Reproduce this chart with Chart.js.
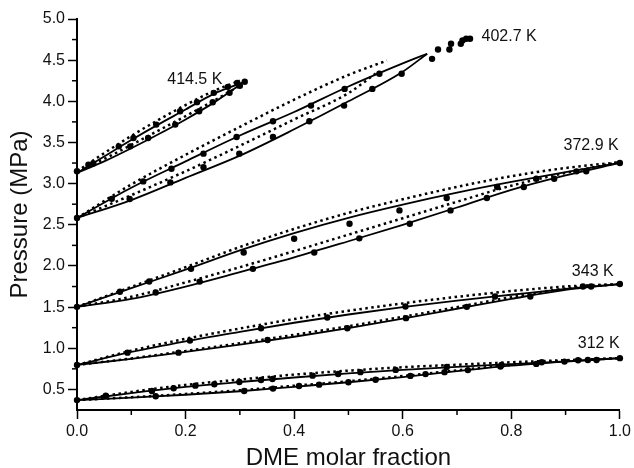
<!DOCTYPE html>
<html><head><meta charset="utf-8">
<script src="https://cdn.jsdelivr.net/npm/chart.js@4.4.0/dist/chart.umd.min.js"></script>
<style>html,body{margin:0;padding:0;background:#fff;}#wrap{width:634px;height:468px;}</style>
</head><body><div id="wrap"><canvas id="c" width="634" height="468"></canvas></div>
<script>
// ---- tick values ----
const xMajor = [0, 0.2, 0.4, 0.6, 0.8, 1.0];
const xMinor = [0.1, 0.3, 0.5, 0.7, 0.9];
const yMajor = [0.5, 1.0, 1.5, 2.0, 2.5, 3.0, 3.5, 4.0, 4.5, 5.0];
const yMinor = [0.75, 1.25, 1.75, 2.25, 2.75, 3.25, 3.75, 4.25, 4.75];

// ---- isotherm labels ----
const labelTexts = ['414.5 K', '402.7 K', '372.9 K', '343 K', '312 K'];
const labelX = [0.217, 0.796, 0.947, 0.95, 0.961];
const labelP = [4.265, 4.79, 3.46, 1.93, 1.053];

// ---- experimental data [x, P(MPa)] ----
const exp312Liq = [[0,0.37],[0.053,0.424],[0.138,0.481],[0.178,0.514],[0.218,0.546],[0.253,0.563],[0.299,0.59],[0.339,0.615],[0.36,0.627],[0.434,0.667],[0.481,0.688],[0.522,0.71],[0.587,0.737],[0.681,0.772],[0.782,0.797],[0.856,0.83],[0.923,0.855],[0.957,0.858],[1.0,0.88]];
const exp312Vap = [[0.145,0.417],[0.308,0.481],[0.361,0.51],[0.409,0.542],[0.446,0.558],[0.5,0.587],[0.55,0.617],[0.614,0.664],[0.642,0.686],[0.677,0.71],[0.72,0.735],[0.78,0.777],[0.846,0.81],[0.898,0.838],[0.941,0.858]];
const exp343Liq = [[0,0.797],[0.093,0.947],[0.208,1.093],[0.339,1.244],[0.461,1.373],[0.605,1.507],[0.77,1.628],[0.932,1.75],[1.0,1.78]];
const exp343Vap = [[0.187,0.947],[0.351,1.1],[0.498,1.244],[0.606,1.366],[0.718,1.503],[0.835,1.628],[0.947,1.75]];
const exp373Liq = [[0,1.503],[0.079,1.686],[0.133,1.811],[0.21,1.965],[0.307,2.164],[0.4,2.33],[0.502,2.513],[0.594,2.675],[0.681,2.825],[0.774,2.959],[0.846,3.06],[0.92,3.149],[1.0,3.251]];
const exp373Vap = [[0.145,1.677],[0.226,1.81],[0.324,1.965],[0.437,2.164],[0.52,2.335],[0.613,2.513],[0.688,2.675],[0.755,2.825],[0.823,2.959],[0.879,3.06],[0.938,3.149]];
const exp403Liq = [[0,2.582],[0.064,2.815],[0.122,3.027],[0.174,3.18],[0.233,3.364],[0.294,3.567],[0.361,3.757],[0.431,3.948],[0.493,4.151],[0.557,4.334],[0.654,4.516],[0.665,4.63],[0.689,4.7],[0.71,4.74],[0.717,4.76]];
const exp403Vap = [[0.097,2.813],[0.172,3.015],[0.233,3.2],[0.299,3.364],[0.361,3.567],[0.428,3.757],[0.492,3.948],[0.544,4.151],[0.598,4.334],[0.686,4.63],[0.707,4.7],[0.724,4.76]];
const exp415Liq = [[0,3.15],[0.021,3.23],[0.077,3.453],[0.104,3.555],[0.146,3.717],[0.19,3.879],[0.221,3.99],[0.252,4.103],[0.278,4.176],[0.295,4.224]];
const exp415Vap = [[0.03,3.245],[0.098,3.453],[0.131,3.555],[0.181,3.717],[0.225,3.879],[0.25,3.988],[0.281,4.103],[0.3,4.19],[0.309,4.237]];

// ---- model curves (solid) ----
const m312Bub = [[0,0.37],[0.1,0.455],[0.2,0.53],[0.3,0.59],[0.4,0.645],[0.5,0.695],[0.6,0.738],[0.7,0.775],[0.8,0.808],[0.9,0.84],[1,0.88]];
const m312Dew = [[0,0.37],[0.1,0.4],[0.2,0.435],[0.3,0.478],[0.4,0.532],[0.5,0.587],[0.6,0.65],[0.7,0.722],[0.8,0.788],[0.9,0.838],[1,0.88]];
const m343Bub = [[0,0.797],[0.1,0.955],[0.2,1.085],[0.3,1.2],[0.4,1.31],[0.5,1.41],[0.6,1.5],[0.7,1.58],[0.8,1.65],[0.9,1.72],[1,1.78]];
const m343Dew = [[0,0.797],[0.1,0.87],[0.2,0.955],[0.3,1.045],[0.4,1.14],[0.5,1.245],[0.6,1.36],[0.7,1.48],[0.8,1.6],[0.9,1.71],[1,1.78]];
const m373Bub = [[0,1.503],[0.1,1.73],[0.2,1.955],[0.3,2.19],[0.4,2.4],[0.5,2.585],[0.6,2.745],[0.7,2.89],[0.8,3.02],[0.9,3.14],[1,3.251]];
const m373Dew = [[0,1.503],[0.1,1.6],[0.2,1.75],[0.3,1.925],[0.4,2.105],[0.5,2.3],[0.6,2.5],[0.7,2.71],[0.8,2.925],[0.9,3.1],[1,3.251]];
const m403Bub = [[0,2.582],[0.1,2.95],[0.2,3.27],[0.3,3.585],[0.4,3.87],[0.5,4.18],[0.6,4.46],[0.645,4.578]];
const m403Dew = [[0,2.582],[0.1,2.8],[0.2,3.07],[0.3,3.34],[0.4,3.66],[0.5,4.0],[0.6,4.36],[0.645,4.578]];
const m415Bub = [[0,3.13],[0.05,3.33],[0.1,3.53],[0.15,3.72],[0.2,3.9],[0.25,4.085],[0.3,4.215],[0.306,4.23]];
const m415Dew = [[0,3.13],[0.05,3.27],[0.1,3.43],[0.15,3.6],[0.2,3.78],[0.25,3.975],[0.3,4.2],[0.306,4.23]];

// ---- second model curves (dotted) ----
const d312Bub = [[0,0.37],[0.1,0.47],[0.2,0.555],[0.3,0.62],[0.4,0.68],[0.5,0.728],[0.6,0.77],[0.7,0.8],[0.8,0.83],[0.9,0.855],[1,0.88]];
const d312Dew = [[0,0.37],[0.1,0.405],[0.2,0.445],[0.3,0.49],[0.4,0.545],[0.5,0.6],[0.6,0.662],[0.7,0.732],[0.8,0.798],[0.9,0.848],[1,0.88]];
const d343Bub = [[0,0.797],[0.1,0.97],[0.2,1.115],[0.3,1.24],[0.4,1.355],[0.5,1.455],[0.6,1.545],[0.7,1.625],[0.8,1.695],[0.9,1.75],[1,1.78]];
const d343Dew = [[0,0.797],[0.1,0.877],[0.2,0.967],[0.3,1.062],[0.4,1.163],[0.5,1.268],[0.6,1.382],[0.7,1.5],[0.8,1.62],[0.9,1.725],[1,1.78]];
const d373Bub = [[0,1.503],[0.1,1.745],[0.2,1.985],[0.3,2.23],[0.4,2.45],[0.5,2.645],[0.6,2.81],[0.7,2.96],[0.8,3.09],[0.9,3.19],[1,3.26]];
const d373Dew = [[0,1.503],[0.1,1.625],[0.2,1.8],[0.3,1.985],[0.4,2.18],[0.5,2.38],[0.6,2.58],[0.7,2.78],[0.8,2.975],[0.9,3.13],[1,3.26]];
const d403Bub = [[0,2.582],[0.1,2.99],[0.2,3.35],[0.3,3.69],[0.4,4.02],[0.5,4.32],[0.571,4.495]];
const d403Dew = [[0,2.582],[0.1,2.86],[0.2,3.15],[0.3,3.46],[0.4,3.78],[0.5,4.1],[0.556,4.366]];
const d415Bub = [[0,3.15],[0.05,3.37],[0.1,3.58],[0.15,3.775],[0.2,3.955],[0.25,4.12],[0.3,4.25]];
const d415Dew = [[0,3.15],[0.05,3.3],[0.1,3.47],[0.15,3.645],[0.2,3.82],[0.25,4.0],[0.3,4.19]];

// ---- build datasets ----
const toPts = a => a.map(([x, y]) => ({x, y}));
const pointSets = [exp312Liq, exp312Vap, exp343Liq, exp343Vap, exp373Liq, exp373Vap, exp403Liq, exp403Vap, exp415Liq, exp415Vap];
const solidSets = [m312Bub, m312Dew, m343Bub, m343Dew, m373Bub, m373Dew, m403Bub, m403Dew, m415Bub, m415Dew];
const dottedSets = [d312Bub, d312Dew, d343Bub, d343Dew, d373Bub, d373Dew, d403Bub, d403Dew, d415Bub, d415Dew];

const datasets = [];
dottedSets.forEach(s => datasets.push({data: toPts(s), showLine: true, pointRadius: 0, borderColor: '#000', borderWidth: 2.5, borderDash: [2.5, 3.5], cubicInterpolationMode: 'monotone', order: 2, clip: false}));
solidSets.forEach(s => datasets.push({data: toPts(s), showLine: true, pointRadius: 0, borderColor: '#000', borderWidth: 1.8, cubicInterpolationMode: 'monotone', order: 1, clip: false}));
pointSets.forEach(s => datasets.push({data: toPts(s), showLine: false, pointRadius: 3.2, pointBackgroundColor: '#000', pointBorderColor: '#000', pointBorderWidth: 0, order: 0, clip: false}));

const FONT = '"Liberation Sans", Arial, sans-serif';

const overlay = {
  id: 'overlay',
  afterDraw(chart) {
    const ctx = chart.ctx, xs = chart.scales.x, ys = chart.scales.y;
    ctx.save();
    ctx.strokeStyle = '#000';
    ctx.lineWidth = 1.5;
    xMinor.forEach(v => { const px = xs.getPixelForValue(v); ctx.beginPath(); ctx.moveTo(px, ys.bottom); ctx.lineTo(px, ys.bottom + 5); ctx.stroke(); });
    yMinor.forEach(v => { const py = ys.getPixelForValue(v); ctx.beginPath(); ctx.moveTo(xs.left, py); ctx.lineTo(xs.left - 5, py); ctx.stroke(); });
    ctx.fillStyle = '#111';
    ctx.font = '16px ' + FONT;
    ctx.textAlign = 'center';
    ctx.textBaseline = 'middle';
    labelTexts.forEach((t, i) => ctx.fillText(t, xs.getPixelForValue(labelX[i]), ys.getPixelForValue(labelP[i])));
    ctx.restore();
  }
};

new Chart(document.getElementById('c'), {
  type: 'scatter',
  data: {datasets},
  plugins: [overlay],
  options: {
    responsive: false,
    animation: false,
    devicePixelRatio: 1,
    layout: {padding: {top: 19, right: 12, left: 0, bottom: 0}},
    plugins: {legend: {display: false}, tooltip: {enabled: false}},
    scales: {
      x: {
        type: 'linear', min: 0, max: 1,
        afterBuildTicks: s => { s.ticks = xMajor.map(v => ({value: v})); },
        afterFit: s => { s.height = 58; },
        ticks: {callback: v => Number(v).toFixed(1), color: '#111', font: {size: 16, family: FONT}, padding: 3, maxRotation: 0},
        grid: {drawOnChartArea: false, drawTicks: true, tickLength: 9, tickWidth: 1.5, tickColor: '#000'},
        border: {display: true, color: '#000', width: 2},
        title: {display: true, text: 'DME molar fraction', color: '#111', font: {size: 24, family: FONT, lineHeight: 0.8}, padding: {top: 0, bottom: 0}}
      },
      y: {
        type: 'linear', min: 0.25, max: 5.0,
        afterBuildTicks: s => { s.ticks = yMajor.map(v => ({value: v})); },
        afterFit: s => { s.width = 77; },
        ticks: {callback: v => Number(v).toFixed(1), color: '#111', font: {size: 16, family: FONT}, padding: 3},
        grid: {drawOnChartArea: false, drawTicks: true, tickLength: 9, tickWidth: 1.5, tickColor: '#000'},
        border: {display: true, color: '#000', width: 2},
        title: {display: true, text: 'Pressure (MPa)', color: '#111', font: {size: 24, family: FONT, lineHeight: 0.8}, padding: {top: 11, bottom: 0}}
      }
    }
  }
});
</script></body></html>
